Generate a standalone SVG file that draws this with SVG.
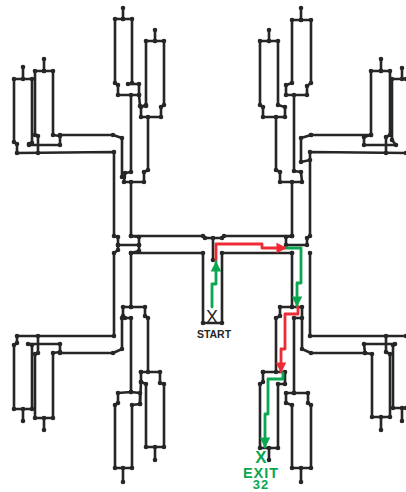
<svg xmlns="http://www.w3.org/2000/svg" width="406" height="492" viewBox="0 0 406 492">
<defs>
<filter id="soft" x="-2%" y="-2%" width="104%" height="104%"><feGaussianBlur stdDeviation="0.4"/></filter>
<marker id="dot" viewBox="-2 -2 4 4" markerWidth="4.600" markerHeight="4.600" markerUnits="userSpaceOnUse" overflow="visible"><circle r="2" fill="#262626"/></marker>
<marker id="ag" viewBox="0 0 10 10" refX="9" refY="5" markerWidth="3.800" markerHeight="3.800" orient="auto"><path d="M0 0L10 5L0 10Z" fill="#0aa650"/></marker>
<marker id="ar" viewBox="0 0 10 10" refX="9" refY="5" markerWidth="3.800" markerHeight="3.800" orient="auto"><path d="M0 0L10 5L0 10Z" fill="#ee2a35"/></marker>
</defs>
<style>
polyline{fill:none;stroke-linejoin:round;stroke-linecap:round}
.w polyline{stroke:#262626;stroke-width:2.600;marker-start:url(#dot);marker-mid:url(#dot);marker-end:url(#dot)}
.g{stroke:#0aa650;stroke-width:2.800;marker-end:url(#ag)}
.r{stroke:#ee2a35;stroke-width:2.800;marker-end:url(#ar)}
text{font-family:"Liberation Sans",Arial,sans-serif;text-anchor:middle}
</style>
<rect width="406" height="492" fill="#fff"/>
<g id="walls" class="w" filter="url(#soft)">
<!-- top left -->
<polyline points="123,8 123,19 115,19 115,83 118,85 118,95 139,95 139,84 128,84"/>
<polyline points="123,19 132,19 132,83"/>
<polyline points="155,30 155,41 146,41 146,105 141,107 141,117 161,117 161,107 164,105 164,41 155,41"/>
<polyline points="131,95 131,172 125,173 124,182 144,182 144,172 148,170 148,117"/>
<polyline points="139,95 140,106 146,106"/>
<polyline points="131,182 131,236 139,237 139,245 118,245 118,237 114,236 114,152 17,153 17,144 14,142 14,79 32,79 32,143 29,144"/>
<polyline points="23,67 23,79"/>
<polyline points="44,59 44,71 35,71 35,135 38,136 38,153"/>
<polyline points="44,71 53,71 53,135 60,136 60,145 29,145"/>
<polyline points="60,135 113,135 122,138 122,177 124,177"/>
<!-- centre -->
<polyline points="131,236 203,236 205,238 222,238 224,236 292,236"/>
<polyline points="292,236 286,237 286,245 307,245 307,238 310,236 310,152 406,153"/>
<polyline points="213,238 213,260"/>
<polyline points="131,253 203,253 203,323 222,323 222,253 292,253"/>
<polyline points="118,245 118,250 114,253 114,336 17,336 17,343 14,345 14,409 32,409 32,345 28,344 60,344 60,352 53,353 53,418 35,418 35,354 38,353 38,336"/>
<polyline points="139,245 139,251 131,253 131,307 123,307 123,316 122,318 122,349 113,353 60,353"/>
<polyline points="131,307 145,307 145,316 148,318 148,372 141,372 141,382 146,384 146,447 164,447 164,384 160,383 160,372 141,372"/>
<polyline points="125,318 131,318 131,392 118,393 118,403 115,405 115,468 132,468 132,405 140,404 140,393 131,392"/>
<polyline points="140,404 141,382"/>
<polyline points="23,409 23,421"/><polyline points="44,418 44,430"/><polyline points="155,447 155,460"/><polyline points="123,468 123,482"/>
<!-- top right -->
<polyline points="301,8 301,20 292,20 292,83 286,85 286,95 307,95 307,86 311,83 311,20 301,20"/>
<polyline points="269,30 269,41 260,41 260,105 263,107 263,117 285,117 285,107 278,105 278,41 269,41"/>
<polyline points="294,95 294,171 301,172 302,182 280,182 280,172 276,170 276,117"/>
<polyline points="292,182 292,236"/>
<polyline points="311,135 301,138 301,162 310,160"/>
<polyline points="311,135 371,135 364,137 364,145 396,145 392,140 392,79 406,79"/>
<polyline points="381,59 381,71 371,71 371,135"/>
<polyline points="381,71 390,71 390,135 386,137 386,153"/>
<polyline points="402,68 402,79"/>
<!-- bottom right -->
<polyline points="310,253 310,336 406,336"/>
<polyline points="292,253 292,307 280,307 280,316 276,318 276,372"/>
<polyline points="292,307 302,307 302,349 311,353 365,353 364,344 395,344"/>
<polyline points="393,345 393,408 406,408"/>
<polyline points="302,318 294,318 294,393 286,393 286,403 292,405 292,468 311,468 311,405 308,403 308,393 294,393"/>
<polyline points="263,372 285,372 285,384 278,384 278,448 260,448 260,384 263,382 263,372"/>
<polyline points="365,353 372,354 372,417 390,417 390,354 386,352 386,336"/>
<polyline points="381,417 381,430"/><polyline points="402,408 402,421"/><polyline points="269,448 269,460"/><polyline points="301,468 301,482"/>
</g>
<g id="routes">
<polyline class="r" points="216,260 216,244 262,244 262,248 286,248"/>
<polyline class="g" points="212,307 212,284 216,284 216,262"/>
<polyline class="g" points="287,248 301,248 301,283 297,283 297,306"/>
<polyline class="r" points="298,307 298,314 285,314 285,349 281,349 281,372"/>
<polyline class="g" points="283,373 283,379 268,379 268,414 265,414 265,447"/>
</g>
<g id="labels">
<text x="212" y="323" font-size="18" fill="#262626">X</text>
<text x="214" y="337.500" font-size="10.500" font-weight="700" fill="#262626">START</text>
<text x="261" y="463" font-size="17" font-weight="700" fill="#0aa650">X</text>
<text x="261" y="477.500" font-size="14.500" font-weight="700" letter-spacing="1" fill="#0aa650">EXIT</text>
<text x="261" y="489" font-size="13" font-weight="700" letter-spacing="1" fill="#0aa650">32</text>
</g>
</svg>
